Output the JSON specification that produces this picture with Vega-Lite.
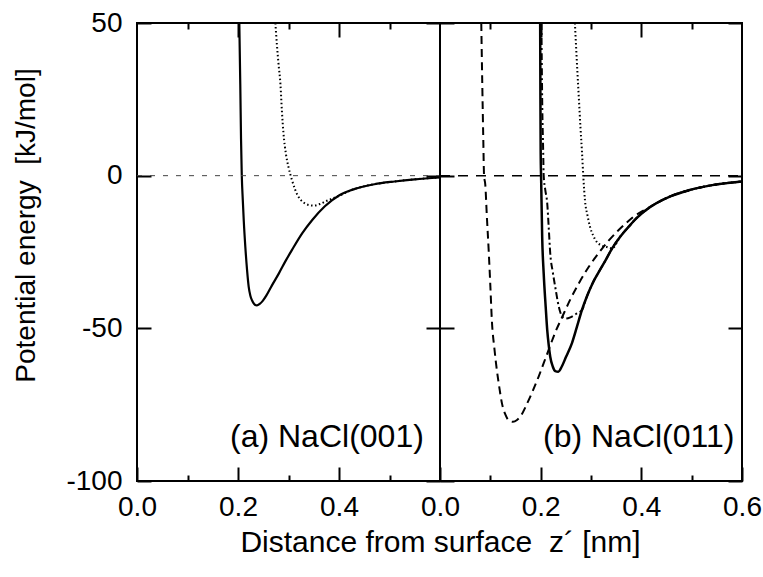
{
  "$schema": "https://vega.github.io/schema/vega-lite/v6.json",
  "background": "white",
  "padding": {"left": 10, "top": 8, "right": 3, "bottom": 8},
  "spacing": 0,
  "bounds": "flush",
  "config": {
    "font": "Liberation Sans",
    "view": {"stroke": "black", "strokeWidth": 2},
    "axis": {"domain": false, "grid": false, "tickColor": "black", "tickWidth": 2, "labelColor": "black", "labelFont": "Liberation Sans", "labelFontSize": 28, "titleFont": "Liberation Sans", "titleColor": "black", "titleFontWeight": "normal", "labelFlush": false, "labelOverlap": false}
  },
  "datasets": {
    "a_solid": [{"z":0.2026,"E":50},{"z":0.2045,"E":30},{"z":0.206,"E":12},{"z":0.2075,"E":0},{"z":0.2095,"E":-8},{"z":0.2115,"E":-15},{"z":0.2145,"E":-23.3},{"z":0.218,"E":-31},{"z":0.2212,"E":-36.4},{"z":0.2245,"E":-39.3},{"z":0.2277,"E":-40.8},{"z":0.232,"E":-42},{"z":0.2376,"E":-42.5},{"z":0.243,"E":-42},{"z":0.249,"E":-41},{"z":0.256,"E":-39.3},{"z":0.267,"E":-36},{"z":0.281,"E":-32},{"z":0.294,"E":-28},{"z":0.307,"E":-24.3},{"z":0.327,"E":-18.9},{"z":0.347,"E":-14.5},{"z":0.372,"E":-10},{"z":0.40,"E":-6.5},{"z":0.43,"E":-4.4},{"z":0.47,"E":-2.8},{"z":0.51,"E":-1.9},{"z":0.55,"E":-1.2},{"z":0.6,"E":-0.6}],
    "a_dotted": [{"z":0.274,"E":50},{"z":0.277,"E":43},{"z":0.280,"E":37},{"z":0.284,"E":30},{"z":0.287,"E":21},{"z":0.290,"E":14},{"z":0.295,"E":7},{"z":0.300,"E":2.8},{"z":0.307,"E":-1.5},{"z":0.313,"E":-4.5},{"z":0.320,"E":-7},{"z":0.330,"E":-8.8},{"z":0.340,"E":-9.6},{"z":0.350,"E":-9.8},{"z":0.362,"E":-9.3},{"z":0.375,"E":-8.3},{"z":0.39,"E":-7.3},{"z":0.40,"E":-6.6},{"z":0.43,"E":-4.4},{"z":0.47,"E":-2.8},{"z":0.51,"E":-1.9},{"z":0.55,"E":-1.2},{"z":0.6,"E":-0.6}],
    "b_solid": [{"z":0.199,"E":50},{"z":0.1995,"E":25},{"z":0.200,"E":8},{"z":0.201,"E":-1.6},{"z":0.203,"E":-20},{"z":0.206,"E":-32},{"z":0.210,"E":-43},{"z":0.213,"E":-50.5},{"z":0.216,"E":-55.5},{"z":0.219,"E":-59.3},{"z":0.224,"E":-62.5},{"z":0.229,"E":-64},{"z":0.235,"E":-64.2},{"z":0.242,"E":-62.5},{"z":0.250,"E":-59.5},{"z":0.262,"E":-54.9},{"z":0.272,"E":-49.5},{"z":0.282,"E":-44},{"z":0.292,"E":-39.5},{"z":0.303,"E":-35.3},{"z":0.315,"E":-31.7},{"z":0.328,"E":-28},{"z":0.342,"E":-23.8},{"z":0.358,"E":-20},{"z":0.375,"E":-16.7},{"z":0.39,"E":-14},{"z":0.41,"E":-11.2},{"z":0.428,"E":-9.2},{"z":0.46,"E":-6.6},{"z":0.494,"E":-4.8},{"z":0.541,"E":-3.1},{"z":0.6,"E":-1.9}],
    "b_dashed": [{"z":0.082,"E":50},{"z":0.084,"E":30},{"z":0.086,"E":12},{"z":0.0875,"E":0},{"z":0.090,"E":-3},{"z":0.093,"E":-13},{"z":0.097,"E":-25.4},{"z":0.100,"E":-36},{"z":0.103,"E":-47.3},{"z":0.108,"E":-56.5},{"z":0.113,"E":-63.7},{"z":0.118,"E":-69.5},{"z":0.123,"E":-74.5},{"z":0.130,"E":-78.3},{"z":0.137,"E":-80.2},{"z":0.145,"E":-80.6},{"z":0.153,"E":-80},{"z":0.162,"E":-78.3},{"z":0.170,"E":-75.7},{"z":0.183,"E":-71},{"z":0.196,"E":-65.8},{"z":0.206,"E":-61.4},{"z":0.216,"E":-57},{"z":0.229,"E":-51.3},{"z":0.243,"E":-46.2},{"z":0.259,"E":-40.5},{"z":0.276,"E":-35.2},{"z":0.295,"E":-30},{"z":0.315,"E":-25.4},{"z":0.335,"E":-21.3},{"z":0.355,"E":-17.8},{"z":0.37,"E":-15.5},{"z":0.385,"E":-13.4},{"z":0.41,"E":-10.9},{"z":0.428,"E":-9.2},{"z":0.46,"E":-6.6},{"z":0.494,"E":-4.8},{"z":0.541,"E":-3.1},{"z":0.6,"E":-1.9}],
    "b_dashdot": [{"z":0.2015,"E":50},{"z":0.203,"E":25},{"z":0.205,"E":8},{"z":0.206,"E":0},{"z":0.209,"E":-4.5},{"z":0.213,"E":-9},{"z":0.216,"E":-17},{"z":0.219,"E":-25.4},{"z":0.224,"E":-31.5},{"z":0.229,"E":-36.5},{"z":0.236,"E":-42.9},{"z":0.243,"E":-46.2},{"z":0.250,"E":-46.8},{"z":0.259,"E":-46.4},{"z":0.270,"E":-45.3},{"z":0.282,"E":-44},{"z":0.292,"E":-39.5},{"z":0.303,"E":-35.3},{"z":0.315,"E":-31.7},{"z":0.328,"E":-28},{"z":0.342,"E":-23.8},{"z":0.358,"E":-20},{"z":0.375,"E":-16.7},{"z":0.39,"E":-14},{"z":0.41,"E":-11.2},{"z":0.428,"E":-9.2},{"z":0.46,"E":-6.6},{"z":0.494,"E":-4.8},{"z":0.541,"E":-3.1},{"z":0.6,"E":-1.9}],
    "b_dotted": [{"z":0.268,"E":50},{"z":0.272,"E":37},{"z":0.276,"E":25},{"z":0.279,"E":16},{"z":0.282,"E":8},{"z":0.285,"E":-1},{"z":0.288,"E":-8},{"z":0.293,"E":-13},{"z":0.298,"E":-16.7},{"z":0.304,"E":-19.5},{"z":0.311,"E":-21.6},{"z":0.320,"E":-22.8},{"z":0.330,"E":-23.3},{"z":0.342,"E":-23.8},{"z":0.358,"E":-20},{"z":0.375,"E":-16.7},{"z":0.39,"E":-14},{"z":0.41,"E":-11.2},{"z":0.428,"E":-9.2},{"z":0.46,"E":-6.6},{"z":0.494,"E":-4.8},{"z":0.541,"E":-3.1},{"z":0.6,"E":-1.9}]
  },
  "hconcat": [
    {
      "width": 303,
      "height": 458,
      "resolve": {"axis": {"x": "independent", "y": "independent"}},
      "layer": [
        {
          "data": {"name": "a_solid"},
          "mark": {"type": "line", "interpolate": "monotone", "color": "black", "strokeWidth": 2.2, "clip": true},
          "encoding": {
            "x": {"field": "z", "type": "quantitative", "scale": {"domain": [0, 0.6], "nice": false, "zero": false},
                  "axis": {"orient": "bottom", "values": [0, 0.2, 0.4], "format": ".1f", "tickSize": -14, "labelPadding": 26, "title": "Distance from surface\u00a0 z\u00b4 [nm]", "titleFontSize": 30, "titleX": 303, "titleY": 46, "titleAlign": "center", "titleBaseline": "top", "titleAnchor": null}},
            "y": {"field": "E", "type": "quantitative", "scale": {"domain": [-100, 50], "nice": false, "zero": false},
                  "axis": {"orient": "left", "values": [-100, -50, 0, 50], "labelExpr": "replace(datum.label, '\u2212', '-')", "tickSize": -14, "labelPadding": 29, "title": "Potential energy\u00a0 [kJ/mol]", "titleFontSize": 28, "titleAngle": -90, "titleX": -111, "titleY": 202, "titleAlign": "center", "titleBaseline": "middle"}}
          }
        },
        {
          "data": {"name": "a_dotted"},
          "mark": {"type": "line", "interpolate": "monotone", "color": "black", "strokeWidth": 2, "strokeDash": [1.5, 2.5], "clip": true},
          "encoding": {
            "x": {"field": "z", "type": "quantitative", "scale": {"domain": [0, 0.6], "nice": false, "zero": false},
                  "axis": {"orient": "bottom", "values": [0.1, 0.3, 0.5], "tickSize": -6, "labels": false, "title": null}},
            "y": {"field": "E", "type": "quantitative", "scale": {"domain": [-100, 50], "nice": false, "zero": false},
                  "axis": {"orient": "right", "values": [-100, -50, 0, 50], "tickSize": -14, "labels": false, "title": null}}
          }
        },
        {
          "data": {"values": [{}]},
          "mark": {"type": "rule", "color": "#444", "strokeWidth": 1, "strokeDash": [5, 8]},
          "encoding": {
            "x": {"datum": 0, "type": "quantitative", "scale": {"domain": [0, 0.6], "nice": false, "zero": false},
                  "axis": {"orient": "top", "values": [0.2, 0.4], "tickSize": -14, "labels": false, "title": null}},
            "x2": {"datum": 0.6},
            "y": {"datum": 0, "type": "quantitative", "scale": {"domain": [-100, 50], "nice": false, "zero": false}, "axis": null}
          }
        },
        {
          "data": {"values": [{"label": "(a) NaCl(001)"}]},
          "mark": {"type": "text", "align": "right", "baseline": "alphabetic", "fontSize": 32, "font": "Liberation Sans", "color": "black"},
          "encoding": {
            "text": {"field": "label"},
            "x": {"datum": 0.568, "type": "quantitative", "scale": {"domain": [0, 0.6], "nice": false, "zero": false},
                  "axis": {"orient": "top", "values": [0.1, 0.3, 0.5], "tickSize": -6, "labels": false, "title": null}},
            "y": {"datum": -89, "type": "quantitative", "scale": {"domain": [-100, 50], "nice": false, "zero": false}, "axis": null}
          }
        }
      ]
    },
    {
      "width": 302,
      "height": 458,
      "resolve": {"axis": {"x": "independent", "y": "independent"}},
      "layer": [
        {
          "data": {"values": [{}]},
          "mark": {"type": "rule", "color": "black", "strokeWidth": 1.5, "strokeDash": [10, 8]},
          "encoding": {
            "x": {"datum": 0, "type": "quantitative", "scale": {"domain": [0, 0.6], "nice": false, "zero": false}, "axis": null},
            "x2": {"datum": 0.6},
            "y": {"datum": 0, "type": "quantitative", "scale": {"domain": [-100, 50], "nice": false, "zero": false}, "axis": null}
          }
        },
        {
          "data": {"name": "b_solid"},
          "mark": {"type": "line", "interpolate": "monotone", "color": "black", "strokeWidth": 2.5, "clip": true},
          "encoding": {
            "x": {"field": "z", "type": "quantitative", "scale": {"domain": [0, 0.6], "nice": false, "zero": false},
                  "axis": {"orient": "bottom", "values": [0, 0.2, 0.4, 0.6], "format": ".1f", "tickSize": -14, "labelPadding": 26, "title": null}},
            "y": {"field": "E", "type": "quantitative", "scale": {"domain": [-100, 50], "nice": false, "zero": false},
                  "axis": {"orient": "left", "values": [-100, -50, 0, 50], "tickSize": -14, "labels": false, "title": null}}
          }
        },
        {
          "data": {"name": "b_dotted"},
          "mark": {"type": "line", "interpolate": "monotone", "color": "black", "strokeWidth": 2, "strokeDash": [1.5, 2.5], "clip": true},
          "encoding": {
            "x": {"field": "z", "type": "quantitative", "scale": {"domain": [0, 0.6], "nice": false, "zero": false},
                  "axis": {"orient": "bottom", "values": [0.1, 0.3, 0.5], "tickSize": -6, "labels": false, "title": null}},
            "y": {"field": "E", "type": "quantitative", "scale": {"domain": [-100, 50], "nice": false, "zero": false},
                  "axis": {"orient": "right", "values": [-100, -50, 0, 50], "tickSize": -14, "labels": false, "title": null}}
          }
        },
        {
          "data": {"name": "b_dashed"},
          "mark": {"type": "line", "interpolate": "monotone", "color": "black", "strokeWidth": 2, "strokeDash": [8, 5], "clip": true},
          "encoding": {
            "x": {"field": "z", "type": "quantitative", "scale": {"domain": [0, 0.6], "nice": false, "zero": false},
                  "axis": {"orient": "top", "values": [0.2, 0.4], "tickSize": -14, "labels": false, "title": null}},
            "y": {"field": "E", "type": "quantitative", "scale": {"domain": [-100, 50], "nice": false, "zero": false}, "axis": null}
          }
        },
        {
          "data": {"name": "b_dashdot"},
          "mark": {"type": "line", "interpolate": "monotone", "color": "black", "strokeWidth": 2, "strokeDash": [7, 3, 2, 3], "clip": true},
          "encoding": {
            "x": {"field": "z", "type": "quantitative", "scale": {"domain": [0, 0.6], "nice": false, "zero": false},
                  "axis": {"orient": "top", "values": [0.1, 0.3, 0.5], "tickSize": -6, "labels": false, "title": null}},
            "y": {"field": "E", "type": "quantitative", "scale": {"domain": [-100, 50], "nice": false, "zero": false}, "axis": null}
          }
        },
        {
          "data": {"values": [{"label": "(b) NaCl(011)"}]},
          "mark": {"type": "text", "align": "right", "baseline": "alphabetic", "fontSize": 32, "font": "Liberation Sans", "color": "black"},
          "encoding": {
            "text": {"field": "label"},
            "x": {"datum": 0.585, "type": "quantitative", "scale": {"domain": [0, 0.6], "nice": false, "zero": false}, "axis": null},
            "y": {"datum": -89, "type": "quantitative", "scale": {"domain": [-100, 50], "nice": false, "zero": false}, "axis": null}
          }
        }
      ]
    }
  ]
}
